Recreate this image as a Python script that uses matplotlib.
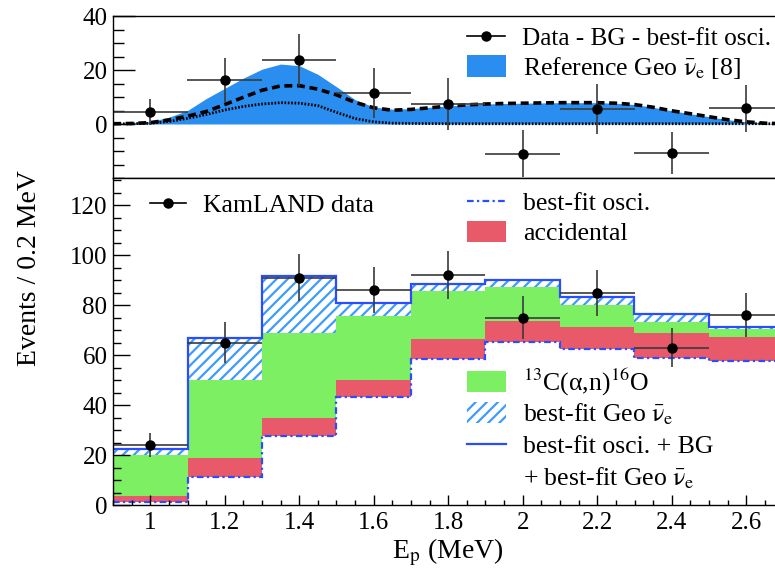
import matplotlib
matplotlib.use('Agg')
import matplotlib.pyplot as plt
from matplotlib.legend import Legend
from matplotlib.lines import Line2D
from matplotlib.patches import Patch
from matplotlib.ticker import MultipleLocator
import numpy as np

plt.rcParams['font.family'] = ['Liberation Serif', 'DejaVu Serif']
plt.rcParams['mathtext.fontset'] = 'stix'
plt.rcParams['hatch.linewidth'] = 1.6

W, H = 775, 571

# ---- data ----
bin_edges = [0.9, 1.1, 1.3, 1.5, 1.7, 1.9, 2.1, 2.3, 2.5, 2.7]
bin_centers = [1.0, 1.2, 1.4, 1.6, 1.8, 2.0, 2.2, 2.4, 2.6]

kamland_data = [24, 65, 91, 86, 92, 75, 85, 63, 76]
data_err = [4.9, 8.1, 9.5, 9.2, 9.6, 8.7, 9.2, 7.9, 8.7]

# stacked components (events / 0.2 MeV)
osci = [1.4, 11.2, 27.7, 43.2, 58.3, 65.1, 62.4, 59.0, 57.6]
accidental = [2.2, 7.8, 7.3, 6.8, 8.0, 8.5, 8.9, 9.7, 9.6]
c13_alpha_n = [16.4, 31.0, 33.8, 25.7, 19.4, 13.5, 8.7, 4.6, 3.1]
geo_fit = [2.4, 16.8, 22.8, 5.2, 2.7, 2.9, 3.3, 3.0, 0.8]

# top panel: data - BG - best-fit osci
residual = [4.4, 16.3, 23.7, 11.5, 7.4, -11.0, 5.5, -10.7, 5.9]

# geo spectra
geo_e = [0.90, 0.95, 1.00, 1.05, 1.10, 1.15, 1.20, 1.25, 1.30, 1.35, 1.40, 1.45,
         1.50, 1.55, 1.60, 1.65, 1.70, 1.75, 1.80, 1.85, 1.90, 1.95, 2.00, 2.05,
         2.10, 2.15, 2.20, 2.25, 2.30, 2.35, 2.40, 2.45, 2.50, 2.55, 2.60, 2.65, 2.70]
geo_ref = [0.2, 0.5, 0.9, 2.5, 5.0, 9.4, 13.2, 17.0, 20.3, 22.2, 21.6, 18.4,
           13.8, 9.0, 6.3, 5.5, 5.7, 6.2, 6.7, 7.1, 7.4, 7.6, 7.7, 7.8,
           7.9, 7.9, 7.9, 7.7, 7.2, 6.2, 4.9, 3.8, 2.7, 1.6, 0.8, 0.3, 0.1]
geo_best = [0.1, 0.2, 0.5, 1.5, 2.9, 4.6, 7.2, 9.9, 12.5, 14.1, 14.2, 12.9,
            10.8, 8.0, 6.0, 5.1, 5.4, 6.0, 6.6, 7.1, 7.4, 7.6, 7.7, 7.8,
            7.9, 7.9, 7.9, 7.7, 7.2, 6.2, 4.9, 3.8, 2.7, 1.6, 0.8, 0.3, 0.1]
geo_part = [0.05, 0.1, 0.25, 0.9, 2.1, 3.5, 5.2, 6.5, 7.4, 7.9, 7.7, 6.8,
            4.3, 2.0, 0.8, 0.3, 0.2, 0.15, 0.1, 0.1, 0.1, 0.1, 0.1, 0.1,
            0.1, 0.1, 0.1, 0.1, 0.1, 0.1, 0.1, 0.1, 0.1, 0.1, 0.1, 0.1, 0.1]

BLUE_FILL = '#2a8ef0'
HATCH_BLUE = '#3d9bff'
GREEN = '#7def62'
RED = '#e85a69'
LINE_BLUE = '#2a4dff'
ERR_GREY = '#3a3a3a'
OSCI_LS = (0, (3, 1.5, 1, 1.5))
NUEBAR = r'$\bar{\mathrm{\nu}}_{\mathrm{e}}$'

fig = plt.figure(figsize=(W / 100, H / 100), dpi=100)
x0 = 113 / W
ax_top = fig.add_axes([x0, 1 - 178 / H, 1 - x0, 162 / H])
ax_bot = fig.add_axes([x0, 1 - 505 / H, 1 - x0, 327 / H])


def add_key(ax, handle, label, px, py, hlen=1.52, size=18.5):
    """one legend row, handle starting at pixel (px, py) of the figure"""
    leg = Legend(ax, [handle], [label], loc='center left',
                 bbox_to_anchor=(px / W, 1 - py / H), bbox_transform=fig.transFigure,
                 frameon=False, fontsize=size, handlelength=hlen, handletextpad=0.65,
                 handleheight=0.9, borderpad=0, borderaxespad=0)
    ax.add_artist(leg)


# ---- top panel ----
ax_top.fill_between(geo_e, 0, geo_ref, color=BLUE_FILL, lw=0)
ax_top.plot(geo_e, geo_best, color='k', lw=2.6, ls=(0, (2.2, 1.3)))
ax_top.plot(geo_e, geo_part, color='k', lw=2.0, ls=(0, (0.6, 0.6)))
ax_top.errorbar(bin_centers, residual, xerr=0.1, yerr=data_err, fmt='o', color='k',
                ms=6.5, ecolor=ERR_GREY, elinewidth=1.2, capsize=0)
ax_top.set_ylim(-20, 40)
ax_top.yaxis.set_minor_locator(MultipleLocator(5))
ax_top.set_yticks([0, 20, 40])
ax_top.tick_params(axis='y', which='major', direction='in', length=15.5, width=1,
                   labelsize=18, pad=4)
ax_top.tick_params(axis='y', which='minor', direction='in', length=7.7, width=1)
ax_top.tick_params(axis='x', which='both', bottom=False, labelbottom=False)

add_key(ax_top, Line2D([], [], color='k', marker='o', ms=6.5, lw=1.2),
        'Data - BG - best-fit osci.', 467, 38, size=18.2)
add_key(ax_top, Patch(facecolor=BLUE_FILL, lw=0), 'Reference Geo ' + NUEBAR + ' [8]', 467, 68)

# ---- bottom panel ----
osci_top = np.array(osci)
acc_top = osci_top + np.array(accidental)
c13_top = acc_top + np.array(c13_alpha_n)
total = c13_top + np.array(geo_fit)

ax_bot.stairs(acc_top, bin_edges, baseline=osci_top, fill=True, color=RED, lw=0)
ax_bot.stairs(c13_top, bin_edges, baseline=acc_top, fill=True, color=GREEN, lw=0)
ax_bot.stairs(total, bin_edges, baseline=c13_top, fill=True, facecolor='white',
              edgecolor=HATCH_BLUE, hatch='///', lw=0)
ax_bot.stairs(osci_top, bin_edges, baseline=None, color=LINE_BLUE, lw=1.6, ls=OSCI_LS)
ax_bot.stairs(total, bin_edges, baseline=None, color=LINE_BLUE, lw=1.6)
ax_bot.errorbar(bin_centers, kamland_data, xerr=0.1, yerr=data_err, fmt='o', color='k',
                ms=6.5, ecolor=ERR_GREY, elinewidth=1.2, capsize=0)

ax_bot.set_ylim(0, 130.8)
ax_bot.yaxis.set_major_locator(MultipleLocator(20))
ax_bot.yaxis.set_minor_locator(MultipleLocator(5))
ax_bot.xaxis.set_minor_locator(MultipleLocator(0.05))
ax_bot.tick_params(axis='y', which='major', direction='in', length=12.3, width=1,
                   labelsize=18, pad=4)
ax_bot.tick_params(axis='y', which='minor', direction='in', length=6, width=1)
ax_bot.tick_params(axis='x', which='major', direction='in', length=7.2, width=1,
                   labelsize=18, pad=5)
ax_bot.tick_params(axis='x', which='minor', direction='in', length=3.6, width=1)
ax_bot.set_xticks(bin_centers)
ax_bot.set_xticklabels(['1', '1.2', '1.4', '1.6', '1.8', '2', '2.2', '2.4', '2.6'])

for ax in (ax_top, ax_bot):
    ax.set_xlim(0.9, 0.9 + (W - 113) / 372.5)
    ax.spines['right'].set_visible(False)
    for s in ax.spines.values():
        s.set_linewidth(1.0)

add_key(ax_bot, Line2D([], [], color='k', marker='o', ms=6.5, lw=1.2), 'KamLAND data',
        150, 205, hlen=1.4)
add_key(ax_bot, Line2D([], [], color=LINE_BLUE, lw=1.6, ls=OSCI_LS), 'best-fit osci.', 467, 203)
add_key(ax_bot, Patch(facecolor=RED, lw=0), 'accidental', 467, 233)
add_key(ax_bot, Patch(facecolor=GREEN, lw=0), r'$^{13}$C(α,n)$^{16}$O', 467, 382)
add_key(ax_bot, Patch(facecolor='white', edgecolor=HATCH_BLUE, hatch='///', lw=0),
        'best-fit Geo ' + NUEBAR, 467, 414)
add_key(ax_bot, Line2D([], [], color=LINE_BLUE, lw=1.6), 'best-fit osci. + BG', 467, 446)
fig.text(523 / W, 1 - 478 / H, '+ best-fit Geo ' + NUEBAR, fontsize=18.5,
         ha='left', va='center')

fig.text(30 / W, 1 - 268 / H, 'Events / 0.2 MeV', rotation=90, fontsize=20,
         ha='center', va='center')
fig.text(448 / W, 1 - 552 / H, r'E$_{\mathrm{p}}$ (MeV)', fontsize=20,
         ha='center', va='center')

fig.savefig('out.png', dpi=100)
